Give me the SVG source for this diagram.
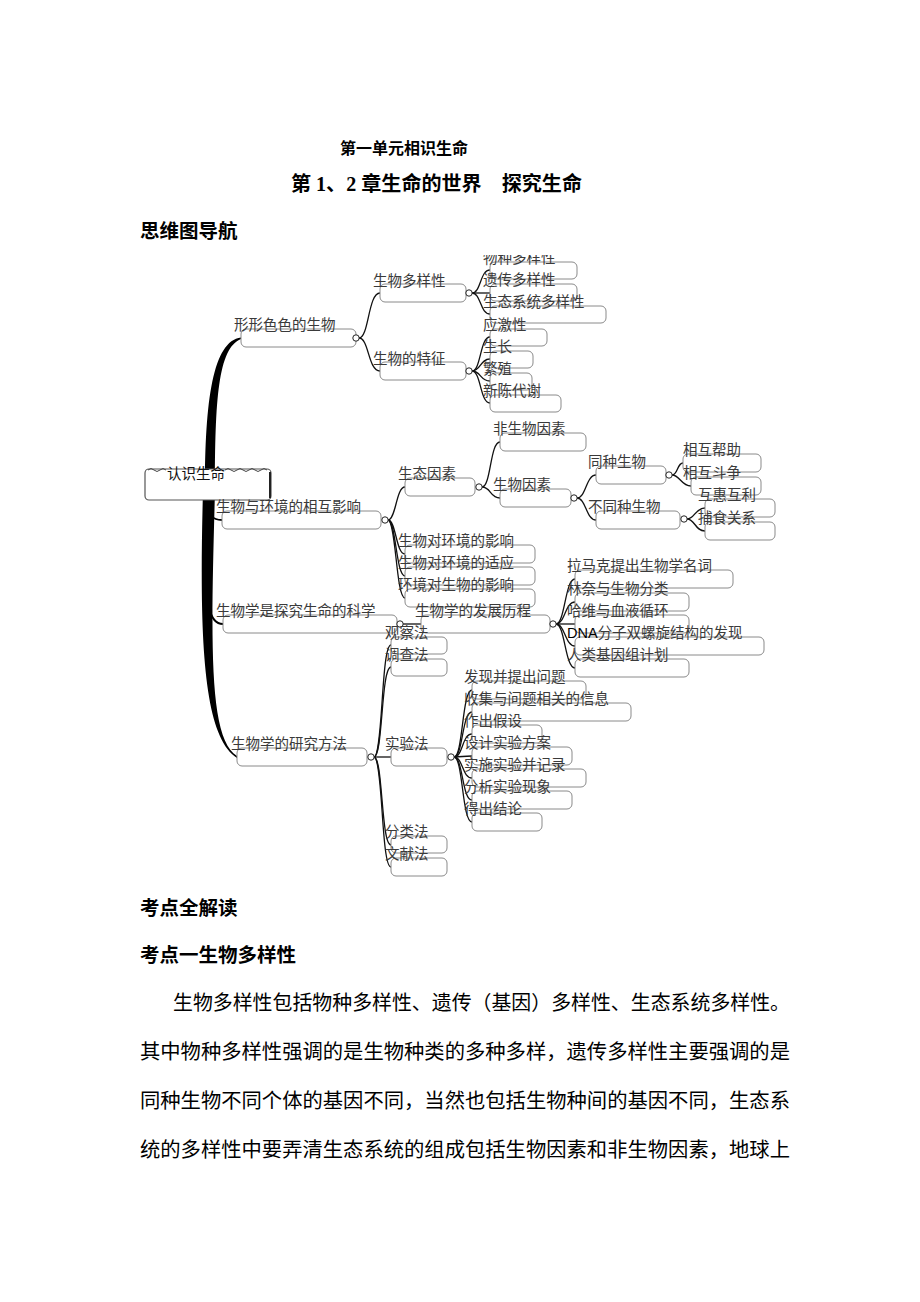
<svg xmlns="http://www.w3.org/2000/svg" width="920" height="1302" viewBox="0 0 920 1302">
<style>
.box{fill:none;stroke:#8a8a8a;stroke-width:1}
.lbl{font-family:"Liberation Serif","Noto Sans CJK SC",serif;font-size:14.5px;fill:#3a3a3a}
.con{fill:none;stroke:#111;stroke-width:1.3}
.dot{fill:#fff;stroke:#222;stroke-width:1}
.h{font-family:"Liberation Serif","Noto Sans CJK SC",sans-serif;font-weight:bold;fill:#000}
.p{font-family:"Liberation Serif","Noto Sans CJK SC",serif;font-size:20px;fill:#000}
.dna{font-family:"Liberation Sans",sans-serif}
</style>
<defs>
<clipPath id="mapclip"><rect x="0" y="255" width="920" height="640"/></clipPath>
</defs>
<rect width="920" height="1302" fill="#fff"/>

<g id="titles">
<text class="h" x="340" y="154" font-size="16">第一单元相识生命</text>
<text class="h" x="291" y="191" font-size="20" textLength="291" lengthAdjust="spacingAndGlyphs">第 1、2 章生命的世界　探究生命</text>
<text class="h" x="140" y="238" font-size="19.5">思维图导航</text>
</g>

<g clip-path="url(#mapclip)">
<g id="trunk" fill="#000">
<path d="M205 490 C205 400 213 341 241 337.5 L241 339 C218 348 215 400 215 490 Z"/>
<path d="M203 490 C199 640 203 736 237 758 L237 756 C208 738 211 640 215 490 Z"/>
<path d="M209 505 C209 515 212 520 222 520" fill="none" stroke="#000" stroke-width="2"/>
<path d="M206 560 C206 600 208 624 223 624" fill="none" stroke="#000" stroke-width="2"/>
</g>

<g id="connectors">
<path class="con" d="M359 338 C369 338 368 293 380 293"/>
<path class="con" d="M359 338 C369 338 368 371 380 371"/>
<path class="con" d="M472 293 C481 293 480 270 490 270"/>
<path class="con" d="M472 293 L490 293"/>
<path class="con" d="M472 293 C481 293 480 314 490 314"/>
<path class="con" d="M472 371 C481 371 480 337 490 337"/>
<path class="con" d="M472 371 C481 371 480 359 490 359"/>
<path class="con" d="M472 371 C481 371 480 381 490 381"/>
<path class="con" d="M472 371 C481 371 480 403 490 403"/>
<path class="con" d="M388 520 C396 520 396 487 405 487"/>
<path class="con" d="M388 520 C396 520 396 554 405 554"/>
<path class="con" d="M388 520 C396 520 396 576 405 576"/>
<path class="con" d="M388 520 C396 520 396 598 405 598"/>
<path class="con" d="M482 487 C491 487 490 442 500 442"/>
<path class="con" d="M482 487 C491 487 490 498 500 498"/>
<path class="con" d="M577 498 C586 498 586 475 596 475"/>
<path class="con" d="M577 498 C586 498 586 520 596 520"/>
<path class="con" d="M672 475 C678 475 677 463 683 463"/>
<path class="con" d="M672 475 C680 475 681 486 691 486"/>
<path class="con" d="M687 519 C695 519 695 508 705 508"/>
<path class="con" d="M687 519 C695 519 695 531 705 531"/>
<path class="con" d="M403 624 L421 624" stroke-width="1.8"/>
<path class="con" d="M556 624 C565 624 565 579 575 579"/>
<path class="con" d="M556 624 C565 624 565 602 575 602"/>
<path class="con" d="M556 624 L575 624"/>
<path class="con" d="M556 624 C565 624 565 646 575 646"/>
<path class="con" d="M556 624 C565 624 565 668 575 668"/>
<path class="con" d="M374 757 C383 757 381 645 391 645"/>
<path class="con" d="M374 757 C383 757 381 667 391 667"/>
<path class="con" d="M374 757 L391 757"/>
<path class="con" d="M374 757 C383 757 381 845 391 845"/>
<path class="con" d="M374 757 C383 757 381 867 391 867"/>
<path class="con" d="M454 757 C463 757 462 690 472 690"/>
<path class="con" d="M454 757 C463 757 462 712 472 712"/>
<path class="con" d="M454 757 C463 757 462 734 472 734"/>
<path class="con" d="M454 757 C463 757 462 756 472 756"/>
<path class="con" d="M454 757 C463 757 462 778 472 778"/>
<path class="con" d="M454 757 C463 757 462 800 472 800"/>
<path class="con" d="M454 757 C463 757 462 822 472 822"/>
</g>

<g id="root">
<rect x="145" y="469" width="126" height="31" rx="4" fill="#fff" stroke="#555" stroke-width="1.2"/>
<path d="M148 470 q3 -3 6 0 t6 0 t6 0 M225 470 q3 -3 6 0 t6 0 t6 0 t6 0 t6 0 t6 0 t6 0" fill="none" stroke="#444" stroke-width="1"/>
<line x1="270" y1="472" x2="270" y2="498" stroke="#222" stroke-width="2"/>
<text class="lbl" x="167" y="479" style="fill:#111">认识生命</text>
</g>

<g id="n1"><rect class="box" x="241" y="329" width="115" height="18" rx="5"/><text class="lbl" x="234" y="330">形形色色的生物</text><circle class="dot" cx="356" cy="338" r="3.2"/></g>
<g id="n1a"><rect class="box" x="380" y="284" width="86" height="18" rx="5"/><text class="lbl" x="373" y="286">生物多样性</text><circle class="dot" cx="469" cy="293" r="3.2"/></g>
<g id="n1a1"><rect class="box" x="490" y="262" width="87" height="17" rx="5"/><text class="lbl" x="483" y="263">物种多样性</text></g>
<g id="n1a2"><rect class="box" x="490" y="284" width="87" height="17" rx="5"/><text class="lbl" x="483" y="285">遗传多样性</text></g>
<g id="n1a3"><rect class="box" x="490" y="306" width="116" height="17" rx="5"/><text class="lbl" x="483" y="307">生态系统多样性</text></g>
<g id="n1b"><rect class="box" x="380" y="362" width="86" height="18" rx="5"/><text class="lbl" x="373" y="364">生物的特征</text><circle class="dot" cx="469" cy="371" r="3.2"/></g>
<g id="n1b1"><rect class="box" x="490" y="329" width="57" height="17" rx="5"/><text class="lbl" x="483" y="330">应激性</text></g>
<g id="n1b2"><rect class="box" x="490" y="351" width="43" height="17" rx="5"/><text class="lbl" x="483" y="352">生长</text></g>
<g id="n1b3"><rect class="box" x="490" y="373" width="42" height="17" rx="5"/><text class="lbl" x="483" y="374">繁殖</text></g>
<g id="n1b4"><rect class="box" x="490" y="395" width="71" height="17" rx="5"/><text class="lbl" x="483" y="396">新陈代谢</text></g>

<g id="n2"><rect class="box" x="222" y="511" width="159" height="18" rx="5"/><text class="lbl" x="216" y="512">生物与环境的相互影响</text><circle class="dot" cx="385" cy="520" r="3.2"/></g>
<g id="n2a"><rect class="box" x="405" y="478" width="70" height="18" rx="5"/><text class="lbl" x="398" y="479">生态因素</text><circle class="dot" cx="479" cy="487" r="3.2"/></g>
<g id="n2a1"><rect class="box" x="500" y="433" width="86" height="18" rx="5"/><text class="lbl" x="493" y="434">非生物因素</text></g>
<g id="n2a2"><rect class="box" x="500" y="489" width="71" height="18" rx="5"/><text class="lbl" x="493" y="490">生物因素</text><circle class="dot" cx="574" cy="498" r="3.2"/></g>
<g id="n2a2a"><rect class="box" x="596" y="466" width="70" height="18" rx="5"/><text class="lbl" x="588" y="467">同种生物</text><circle class="dot" cx="669" cy="475" r="3.2"/></g>
<g id="n2a2a1"><rect class="box" x="683" y="454" width="78" height="18" rx="5"/><text class="lbl" x="683" y="455">相互帮助</text></g>
<g id="n2a2a2"><rect class="box" x="691" y="477" width="70" height="18" rx="5"/><text class="lbl" x="683" y="478">相互斗争</text></g>
<g id="n2a2b"><rect class="box" x="596" y="511" width="84" height="18" rx="5"/><text class="lbl" x="588" y="512">不同种生物</text><circle class="dot" cx="684" cy="519" r="3.2"/></g>
<g id="n2a2b1"><rect class="box" x="705" y="499" width="70" height="18" rx="5"/><text class="lbl" x="698" y="500">互惠互利</text></g>
<g id="n2a2b2"><rect class="box" x="705" y="522" width="70" height="18" rx="5"/><text class="lbl" x="698" y="523">捕食关系</text></g>
<g id="n2b"><rect class="box" x="405" y="545" width="130" height="18" rx="5"/><text class="lbl" x="398" y="546">生物对环境的影响</text></g>
<g id="n2c"><rect class="box" x="405" y="567" width="130" height="18" rx="5"/><text class="lbl" x="398" y="568">生物对环境的适应</text></g>
<g id="n2d"><rect class="box" x="405" y="589" width="130" height="18" rx="5"/><text class="lbl" x="398" y="590">环境对生物的影响</text></g>

<g id="n3"><rect class="box" x="223" y="615" width="174" height="18" rx="5"/><text class="lbl" x="216" y="616">生物学是探究生命的科学</text><circle class="dot" cx="400" cy="624" r="3.2"/></g>
<g id="n3a"><rect class="box" x="421" y="615" width="129" height="18" rx="5"/><text class="lbl" x="415" y="616">生物学的发展历程</text><circle class="dot" cx="553" cy="624" r="3.2"/></g>
<g id="n3a1"><rect class="box" x="575" y="570" width="158" height="18" rx="5"/><text class="lbl" x="567" y="571">拉马克提出生物学名词</text></g>
<g id="n3a2"><rect class="box" x="575" y="593" width="114" height="18" rx="5"/><text class="lbl" x="567" y="594">林奈与生物分类</text></g>
<g id="n3a3"><rect class="box" x="575" y="615" width="114" height="18" rx="5"/><text class="lbl" x="567" y="616">哈维与血液循环</text></g>
<g id="n3a4"><rect class="box" x="575" y="637" width="189" height="18" rx="5"/><text class="lbl" x="567" y="638"><tspan class="dna" style="fill:#000">DNA</tspan>分子双螺旋结构的发现</text></g>
<g id="n3a5"><rect class="box" x="575" y="659" width="114" height="18" rx="5"/><text class="lbl" x="567" y="660">人类基因组计划</text></g>

<g id="n4"><rect class="box" x="237" y="748" width="130" height="18" rx="5"/><text class="lbl" x="231" y="749">生物学的研究方法</text><circle class="dot" cx="371" cy="757" r="3.2"/></g>
<g id="n4a"><rect class="box" x="391" y="637" width="56" height="17" rx="5"/><text class="lbl" x="385" y="638">观察法</text></g>
<g id="n4b"><rect class="box" x="391" y="659" width="56" height="17" rx="5"/><text class="lbl" x="385" y="660">调查法</text></g>
<g id="n4c"><rect class="box" x="391" y="748" width="56" height="18" rx="5"/><text class="lbl" x="385" y="749">实验法</text><circle class="dot" cx="451" cy="757" r="3.2"/></g>
<g id="n4c1"><rect class="box" x="472" y="681" width="114" height="18" rx="5"/><text class="lbl" x="464" y="682">发现并提出问题</text></g>
<g id="n4c2"><rect class="box" x="472" y="703" width="159" height="18" rx="5"/><text class="lbl" x="464" y="704">收集与问题相关的信息</text></g>
<g id="n4c3"><rect class="box" x="472" y="725" width="70" height="18" rx="5"/><text class="lbl" x="464" y="726">作出假设</text></g>
<g id="n4c4"><rect class="box" x="472" y="747" width="100" height="18" rx="5"/><text class="lbl" x="464" y="748">设计实验方案</text></g>
<g id="n4c5"><rect class="box" x="472" y="769" width="114" height="18" rx="5"/><text class="lbl" x="464" y="770">实施实验并记录</text></g>
<g id="n4c6"><rect class="box" x="472" y="791" width="100" height="18" rx="5"/><text class="lbl" x="464" y="792">分析实验现象</text></g>
<g id="n4c7"><rect class="box" x="472" y="813" width="70" height="18" rx="5"/><text class="lbl" x="464" y="814">得出结论</text></g>
<g id="n4d"><rect class="box" x="391" y="836" width="56" height="17" rx="5"/><text class="lbl" x="385" y="837">分类法</text></g>
<g id="n4e"><rect class="box" x="391" y="858" width="56" height="18" rx="5"/><text class="lbl" x="385" y="859">文献法</text></g>
</g>

<g id="body">
<text class="h" x="140" y="915" font-size="19.5">考点全解读</text>
<text class="h" x="140" y="962" font-size="19.5">考点一生物多样性</text>
<text class="p" x="173" y="1010" textLength="617" lengthAdjust="spacingAndGlyphs">生物多样性包括物种多样性、遗传（基因）多样性、生态系统多样性。</text>
<text class="p" x="140" y="1059" textLength="650" lengthAdjust="spacingAndGlyphs">其中物种多样性强调的是生物种类的多种多样，遗传多样性主要强调的是</text>
<text class="p" x="140" y="1108" textLength="650" lengthAdjust="spacingAndGlyphs">同种生物不同个体的基因不同，当然也包括生物种间的基因不同，生态系</text>
<text class="p" x="140" y="1157" textLength="650" lengthAdjust="spacingAndGlyphs">统的多样性中要弄清生态系统的组成包括生物因素和非生物因素，地球上</text>
</g>
</svg>
